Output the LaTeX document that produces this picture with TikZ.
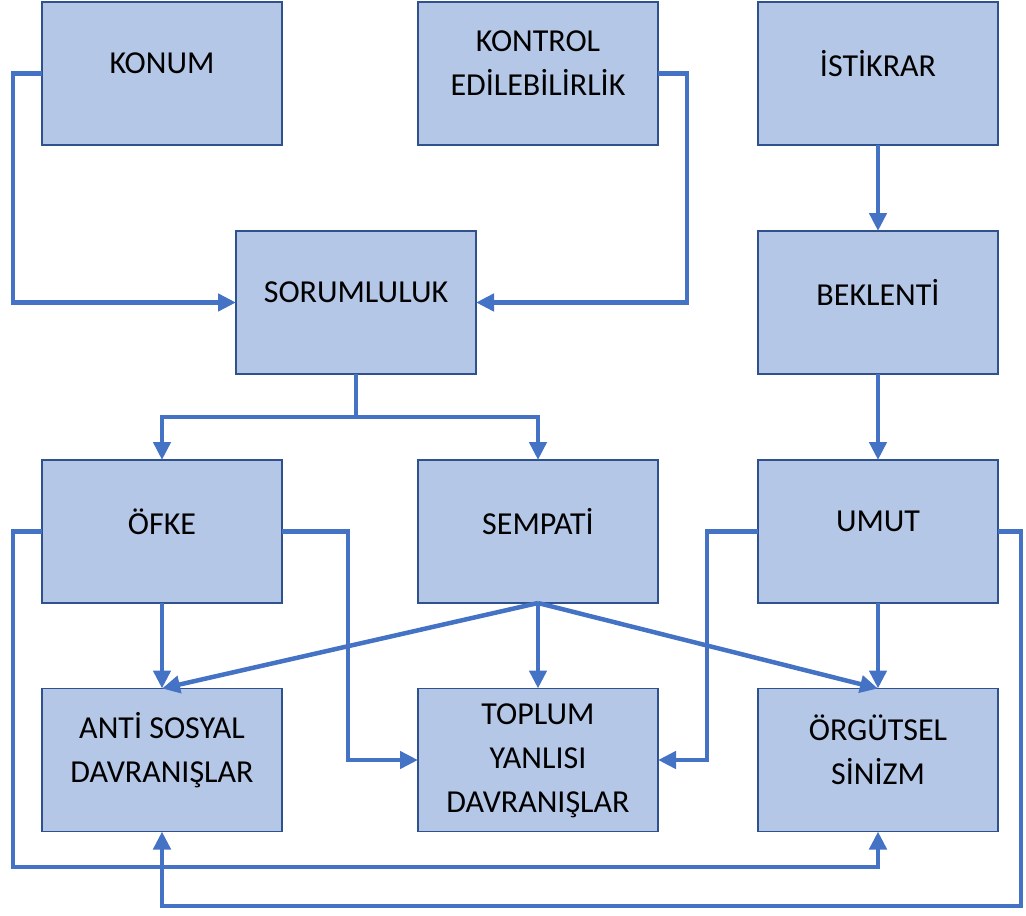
\documentclass[tikz,border=0pt]{standalone}
\usepackage{fontspec}
\setmainfont{Carlito}
\usetikzlibrary{arrows.meta}
\definecolor{boxfill}{HTML}{B4C7E7}
\definecolor{boxline}{HTML}{2F528F}
\definecolor{connblue}{HTML}{4472C4}
\begin{document}
\begin{tikzpicture}[x=1pt,y=-1pt,
  box/.style={draw=boxline,line width=1.8pt,fill=boxfill,minimum width=240pt,minimum height=143pt,inner sep=0pt,outer sep=0pt},
  lbl/.style={align=center,font=\fontsize{32}{44}\selectfont,text=black,inner sep=0pt},
  conn/.style={draw=connblue,line width=4.5pt},
  arr/.style={conn,-{Triangle[length=18pt,width=17pt]}}]
\path[use as bounding box] (0,0) rectangle (1026,916);

\node[box] (konum) at (162,73.5) {};
\node[box] (kontrol) at (538,73.5) {};
\node[box] (istikrar) at (878,73.5) {};
\node[box] (sorum) at (356,302.5) {};
\node[box] (beklenti) at (878,302.5) {};
\node[box] (ofke) at (162,531.5) {};
\node[box] (sempati) at (538,531.5) {};
\node[box] (umut) at (878,531.5) {};
\node[box] (anti) at (162,760) {};
\node[box] (toplum) at (538,760) {};
\node[box] (orgut) at (878,760) {};

\node[lbl] (tkonum) at ([yshift=10pt]konum.center) {KONUM};
\node[lbl] (tkontrol) at ([yshift=10pt]kontrol.center) {KONTROL\\EDİLEBİLİRLİK};
\node[lbl] (tistikrar) at ([yshift=10pt]istikrar.center) {İSTİKRAR};
\node[lbl] (tsorum) at ([yshift=10pt]sorum.center) {SORUMLULUK};
\node[lbl] (tbeklenti) at ([yshift=10pt]beklenti.center) {BEKLENTİ};
\node[lbl] (tofke) at ([yshift=10pt]ofke.center) {ÖFKE};
\node[lbl] (tsempati) at ([yshift=10pt]sempati.center) {SEMPATİ};
\node[lbl] (tumut) at ([yshift=10pt]umut.center) {UMUT};
\node[lbl] (tanti) at ([yshift=10pt]anti.center) {ANTİ SOSYAL\\DAVRANIŞLAR};
\node[lbl] (ttoplum) at ([yshift=-1pt]toplum.center) {TOPLUM\\YANLISI\\DAVRANIŞLAR};
\node[lbl] (torgut) at ([yshift=10pt]orgut.center) {ÖRGÜTSEL\\SİNİZM};

\coordinate (busL) at (13,0);
\coordinate (busR) at (687,0);
\coordinate (bus) at (356,417);
\coordinate (ofkeR) at (348,0);
\coordinate (umutL) at (707,0);
\coordinate (lowA) at (13,867);
\coordinate (lowB) at (1021,906);

\draw[arr] (konum.west) -| (busL |- sorum.west) -- (sorum.west);
\draw[arr] (kontrol.east) -| (busR |- sorum.east) -- (sorum.east);
\draw[arr] (istikrar.south) -- (beklenti.north);
\draw[conn] (sorum.south) -- (bus);
\draw[arr] (bus) -| (ofke.north);
\draw[arr] (bus) -| (sempati.north);
\draw[arr] (beklenti.south) -- (umut.north);
\draw[arr] (ofke.south) -- (anti.north);
\draw[arr] (ofke.east) -| (ofkeR |- toplum.west) -- (toplum.west);
\draw[arr] (ofke.west) -| (lowA) -| (orgut.south);
\draw[arr] (sempati.south) -- (anti.north);
\draw[arr] (sempati.south) -- (toplum.north);
\draw[arr] (sempati.south) -- (orgut.north);
\draw[arr] (umut.west) -| (umutL |- toplum.east) -- (toplum.east);
\draw[arr] (umut.south) -- (orgut.north);
\draw[arr] (umut.east) -| (lowB) -| (anti.south);
\end{tikzpicture}
\end{document}
